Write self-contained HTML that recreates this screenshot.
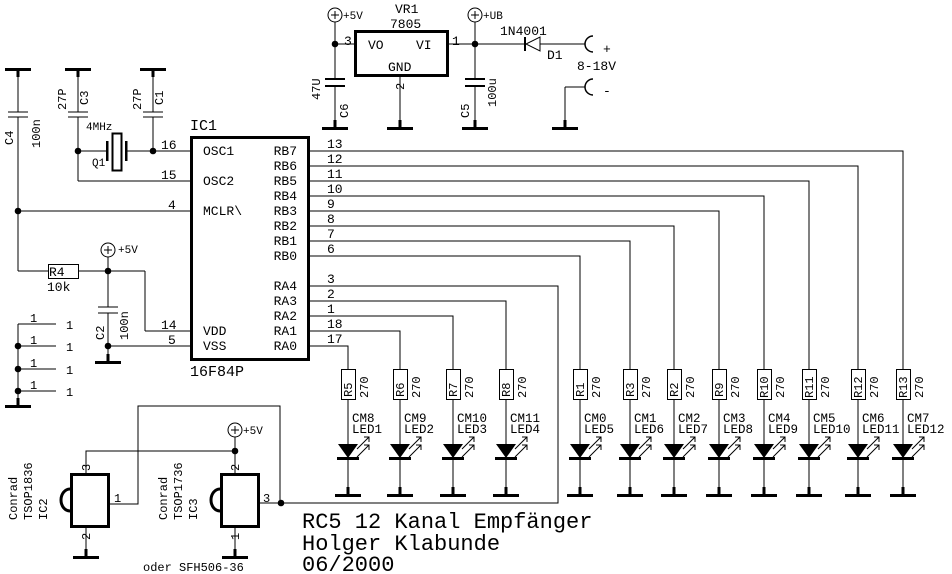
<!DOCTYPE html>
<html><head><meta charset="utf-8"><style>
html,body{margin:0;padding:0;background:#fff;}
svg{display:block;}
text{font-family:"Liberation Mono",monospace;fill:#000;}
</style></head><body>
<svg width="952" height="574" viewBox="0 0 952 574" xmlns="http://www.w3.org/2000/svg">
<defs>
<g id="gd"><line x1="0" y1="-7" x2="0" y2="0" stroke="#000" stroke-width="3"/><rect x="-13" y="0" width="26" height="3" fill="#000"/></g>
<g id="gu"><rect x="-13" y="-1" width="26" height="3" fill="#000"/><line x1="0" y1="2" x2="0" y2="8" stroke="#000" stroke-width="3"/></g>
<g id="led"><polygon points="-10,0 10,0 0,14" fill="#000"/><rect x="-11" y="13" width="22" height="3" fill="#000"/>
<g stroke="#000" stroke-width="1" fill="none"><line x1="9" y1="5" x2="21" y2="-7"/><polyline points="16,-7 21,-7 21,-2"/><line x1="9" y1="13" x2="21" y2="1"/><polyline points="16,1 21,1 21,6"/></g></g>
<g id="dot"><circle r="3.3" fill="#000"/></g>
<g id="pwr"><circle r="7" fill="#fff" stroke="#000" stroke-width="1"/><line x1="-4" y1="0" x2="4" y2="0" stroke="#000"/><line x1="0" y1="-4" x2="0" y2="4" stroke="#000"/></g>
</defs>
<g stroke="#000" stroke-width="1" fill="none" shape-rendering="crispEdges">
<rect x="191.5" y="137.5" width="117" height="222" stroke-width="3"/>
<polyline points="310,151 903,151 903,369"/>
<polyline points="310,166 858,166 858,369"/>
<polyline points="310,181 809,181 809,369"/>
<polyline points="310,196 764,196 764,369"/>
<polyline points="310,211 719,211 719,369"/>
<polyline points="310,226 674,226 674,369"/>
<polyline points="310,241 630,241 630,369"/>
<polyline points="310,256 580,256 580,369"/>
<polyline points="310,286 558,286 558,503 281,503"/>
<polyline points="310,301 506,301 506,369"/>
<polyline points="310,316 453,316 453,369"/>
<polyline points="310,331 400,331 400,369"/>
<polyline points="310,346 348,346 348,369"/>
<line x1="18" y1="76" x2="18" y2="112"/><line x1="18" y1="117" x2="18" y2="271"/>
<line x1="8" y1="112" x2="28" y2="112"/><line x1="8" y1="117" x2="28" y2="117"/>
<line x1="78" y1="76" x2="78" y2="112"/><line x1="78" y1="117" x2="78" y2="181"/><line x1="78" y1="181" x2="190" y2="181"/>
<line x1="68" y1="112" x2="88" y2="112"/><line x1="68" y1="117" x2="88" y2="117"/>
<line x1="153" y1="76" x2="153" y2="112"/><line x1="153" y1="117" x2="153" y2="151"/>
<line x1="143" y1="112" x2="163" y2="112"/><line x1="143" y1="117" x2="163" y2="117"/>
<line x1="78" y1="151" x2="107" y2="151"/><line x1="125" y1="151" x2="190" y2="151"/>
<line x1="18" y1="211" x2="190" y2="211"/>
<line x1="18" y1="271" x2="48" y2="271"/><line x1="78" y1="271" x2="145" y2="271"/>
<line x1="145" y1="271" x2="145" y2="331"/><line x1="145" y1="331" x2="190" y2="331"/>
<line x1="108" y1="257" x2="108" y2="307"/><line x1="108" y1="313" x2="108" y2="355"/>
<line x1="98" y1="307" x2="118" y2="307"/><line x1="98" y1="313" x2="118" y2="313"/>
<line x1="108" y1="346" x2="190" y2="346"/>
<line x1="18" y1="324" x2="18" y2="400"/>
<line x1="18" y1="324" x2="56" y2="324"/><line x1="18" y1="346" x2="56" y2="346"/><line x1="18" y1="369" x2="56" y2="369"/><line x1="18" y1="391" x2="56" y2="391"/>
<rect x="355.5" y="31.5" width="92" height="44" stroke-width="3"/>
<line x1="335" y1="22" x2="335" y2="79"/><line x1="335" y1="86" x2="335" y2="122"/>
<line x1="335" y1="44" x2="355" y2="44"/>
<line x1="400" y1="76" x2="400" y2="122"/>
<line x1="447" y1="44" x2="525" y2="44"/><line x1="540" y1="44" x2="585" y2="44"/>
<line x1="475" y1="22" x2="475" y2="79"/><line x1="475" y1="86" x2="475" y2="122"/>
<line x1="565" y1="87" x2="585" y2="87"/><line x1="565" y1="87" x2="565" y2="122"/>
<polyline points="86,473 86,451 235,451"/>
<line x1="235" y1="437" x2="235" y2="473"/>
<polyline points="108,504 138,504 138,406 280,406 280,503"/>
<line x1="258" y1="503" x2="281" y2="503"/>
<line x1="86" y1="527" x2="86" y2="550"/>
<line x1="235" y1="527" x2="235" y2="550"/>
<line x1="348" y1="399" x2="348" y2="490"/><line x1="400" y1="399" x2="400" y2="490"/><line x1="453" y1="399" x2="453" y2="490"/><line x1="506" y1="399" x2="506" y2="490"/>
<line x1="580" y1="399" x2="580" y2="490"/><line x1="630" y1="399" x2="630" y2="490"/><line x1="674" y1="399" x2="674" y2="490"/><line x1="719" y1="399" x2="719" y2="490"/>
<line x1="764" y1="399" x2="764" y2="490"/><line x1="809" y1="399" x2="809" y2="490"/><line x1="858" y1="399" x2="858" y2="490"/><line x1="903" y1="399" x2="903" y2="490"/>
</g>
<g fill="#fff" stroke="#000" stroke-width="1">
<rect x="48.5" y="264.5" width="30" height="14"/>
<rect x="341.5" y="369.5" width="14" height="30"/><rect x="393.5" y="369.5" width="14" height="30"/><rect x="446.5" y="369.5" width="14" height="30"/><rect x="499.5" y="369.5" width="14" height="30"/>
<rect x="573.5" y="369.5" width="14" height="30"/><rect x="623.5" y="369.5" width="14" height="30"/><rect x="667.5" y="369.5" width="14" height="30"/><rect x="712.5" y="369.5" width="14" height="30"/>
<rect x="757.5" y="369.5" width="14" height="30"/><rect x="802.5" y="369.5" width="14" height="30"/><rect x="851.5" y="369.5" width="14" height="30"/><rect x="896.5" y="369.5" width="14" height="30"/>
</g>
<rect x="112.5" y="133.5" width="9" height="37" fill="#fff" stroke="#000" stroke-width="2"/>
<rect x="106" y="141" width="2.5" height="20" fill="#000"/><rect x="125" y="141" width="2.5" height="20" fill="#000"/>
<g fill="#000"><rect x="325" y="78" width="20" height="2"/><rect x="325" y="85" width="20" height="2"/><rect x="465" y="78" width="20" height="2"/><rect x="465" y="85" width="20" height="2"/></g>
<polygon points="540,37 540,51 526,44" fill="#fff" stroke="#000"/><line x1="525" y1="37" x2="525" y2="51" stroke="#000" stroke-width="2"/>
<path d="M593,36 A8,8 0 0 0 593,52" fill="none" stroke="#000" stroke-width="1.5"/>
<path d="M593,79 A8,8 0 0 0 593,95" fill="none" stroke="#000" stroke-width="1.5"/>
<rect x="71.5" y="474.5" width="37" height="52" fill="#fff" stroke="#000" stroke-width="3"/>
<rect x="221.5" y="474.5" width="37" height="52" fill="#fff" stroke="#000" stroke-width="3"/>
<path d="M70,489 A9,11 0 0 0 70,511" fill="none" stroke="#000" stroke-width="3"/>
<path d="M220,489 A9,11 0 0 0 220,511" fill="none" stroke="#000" stroke-width="3"/>
<use href="#gu" x="18" y="69"/><use href="#gu" x="78" y="69"/><use href="#gu" x="153" y="69"/>
<use href="#gd" x="108" y="361"/><use href="#gd" x="18" y="405"/>
<use href="#gd" x="335" y="127"/><use href="#gd" x="400" y="127"/><use href="#gd" x="475" y="127"/><use href="#gd" x="565" y="127"/>
<use href="#gd" x="86" y="556"/><use href="#gd" x="235" y="556"/>
<use href="#gd" x="348" y="494"/><use href="#gd" x="400" y="494"/><use href="#gd" x="453" y="494"/><use href="#gd" x="506" y="494"/>
<use href="#gd" x="580" y="494"/><use href="#gd" x="630" y="494"/><use href="#gd" x="674" y="494"/><use href="#gd" x="719" y="494"/>
<use href="#gd" x="764" y="494"/><use href="#gd" x="809" y="494"/><use href="#gd" x="858" y="494"/><use href="#gd" x="903" y="494"/>
<use href="#led" x="348" y="444"/><use href="#led" x="400" y="444"/><use href="#led" x="453" y="444"/><use href="#led" x="506" y="444"/>
<use href="#led" x="580" y="444"/><use href="#led" x="630" y="444"/><use href="#led" x="674" y="444"/><use href="#led" x="719" y="444"/>
<use href="#led" x="764" y="444"/><use href="#led" x="809" y="444"/><use href="#led" x="858" y="444"/><use href="#led" x="903" y="444"/>
<use href="#dot" x="78" y="151"/><use href="#dot" x="153" y="151"/><use href="#dot" x="18" y="211"/><use href="#dot" x="108" y="271"/><use href="#dot" x="108" y="346"/>
<use href="#dot" x="18" y="346"/><use href="#dot" x="18" y="369"/><use href="#dot" x="18" y="391"/>
<use href="#dot" x="335" y="44"/><use href="#dot" x="475" y="44"/><use href="#dot" x="235" y="451"/><use href="#dot" x="281" y="503"/>
<use href="#pwr" x="108" y="250"/><use href="#pwr" x="335" y="15"/><use href="#pwr" x="475" y="15"/><use href="#pwr" x="235" y="430"/>
<g font-size="13">
<text x="190" y="130" font-size="15">IC1</text>
<text x="190" y="376" font-size="15">16F84P</text>
<text x="203" y="155">OSC1</text><text x="203" y="185">OSC2</text><text x="203" y="215">MCLR\</text>
<text x="203" y="335">VDD</text><text x="203" y="350">VSS</text>
<g text-anchor="end"><text x="297" y="155">RB7</text><text x="297" y="170">RB6</text><text x="297" y="185">RB5</text><text x="297" y="200">RB4</text><text x="297" y="215">RB3</text><text x="297" y="230">RB2</text><text x="297" y="245">RB1</text><text x="297" y="260">RB0</text>
<text x="297" y="290">RA4</text><text x="297" y="305">RA3</text><text x="297" y="320">RA2</text><text x="297" y="335">RA1</text><text x="297" y="350">RA0</text></g>
<text x="327" y="148">13</text><text x="327" y="163">12</text><text x="327" y="178">11</text><text x="327" y="193">10</text><text x="327" y="208">9</text><text x="327" y="223">8</text><text x="327" y="238">7</text><text x="327" y="253">6</text>
<text x="327" y="283">3</text><text x="327" y="298">2</text><text x="327" y="313">1</text><text x="327" y="328">18</text><text x="327" y="343">17</text>
<text x="161" y="149">16</text><text x="161" y="179">15</text><text x="168" y="209">4</text><text x="161" y="329">14</text><text x="168" y="344">5</text>
<text x="86" y="130" font-size="11">4MHz</text><text x="92" y="166" font-size="11">Q1</text>
<text x="49" y="276">R4</text><text x="47" y="291">10k</text>
<text x="118" y="253" font-size="11">+5V</text><text x="343" y="19" font-size="11">+5V</text><text x="483" y="19" font-size="11">+UB</text><text x="243" y="434" font-size="11">+5V</text>
<text x="395" y="13">VR1</text><text x="390" y="28">7805</text>
<text x="368" y="49">VO</text><text x="416" y="49">VI</text><text x="388" y="71">GND</text>
<text x="344" y="45">3</text><text x="452" y="45">1</text>
<text x="500" y="35">1N4001</text><text x="547" y="59">D1</text>
<text x="603" y="53">+</text><text x="577" y="70">8-18V</text><text x="603" y="95">-</text>
<text x="30" y="322" font-size="12">1</text><text x="30" y="344" font-size="12">1</text><text x="30" y="367" font-size="12">1</text><text x="30" y="389" font-size="12">1</text>
<text x="66" y="329" font-size="12">1</text><text x="66" y="351" font-size="12">1</text><text x="66" y="374" font-size="12">1</text><text x="66" y="396" font-size="12">1</text>
<text x="114" y="502" font-size="12">1</text><text x="263" y="502" font-size="12">3</text>
<text x="143" y="571" font-size="12">oder SFH506-36</text>
</g>
<g font-size="12">
<text transform="translate(13,145) rotate(-90)">C4</text><text transform="translate(40,148) rotate(-90)">100n</text>
<text transform="translate(66,110) rotate(-90)">27P</text><text transform="translate(88,105) rotate(-90)">C3</text>
<text transform="translate(141,110) rotate(-90)">27P</text><text transform="translate(163,105) rotate(-90)">C1</text>
<text transform="translate(104,340) rotate(-90)">C2</text><text transform="translate(128,340) rotate(-90)">100n</text>
<text transform="translate(320,100) rotate(-90)">47U</text><text transform="translate(348,118) rotate(-90)">C6</text>
<text transform="translate(469,118) rotate(-90)">C5</text><text transform="translate(496,107) rotate(-90)">100u</text>
<text transform="translate(404,90) rotate(-90)">2</text>
<text transform="translate(90,471) rotate(-90)">3</text><text transform="translate(90,540) rotate(-90)">2</text>
<text transform="translate(239,471) rotate(-90)">2</text><text transform="translate(239,540) rotate(-90)">1</text>
<text transform="translate(17,520) rotate(-90)">Conrad</text><text transform="translate(32,520) rotate(-90)">TSOP1836</text><text transform="translate(47,520) rotate(-90)">IC2</text>
<text transform="translate(167,520) rotate(-90)">Conrad</text><text transform="translate(182,520) rotate(-90)">TSOP1736</text><text transform="translate(197,520) rotate(-90)">IC3</text>
</g>
<g font-size="12">
<text transform="translate(352,397) rotate(-90)">R5</text><text transform="translate(368,398) rotate(-90)">270</text>
<text transform="translate(404,397) rotate(-90)">R6</text><text transform="translate(420,398) rotate(-90)">270</text>
<text transform="translate(457,397) rotate(-90)">R7</text><text transform="translate(473,398) rotate(-90)">270</text>
<text transform="translate(510,397) rotate(-90)">R8</text><text transform="translate(526,398) rotate(-90)">270</text>
<text transform="translate(584,397) rotate(-90)">R1</text><text transform="translate(600,398) rotate(-90)">270</text>
<text transform="translate(634,397) rotate(-90)">R3</text><text transform="translate(650,398) rotate(-90)">270</text>
<text transform="translate(678,397) rotate(-90)">R2</text><text transform="translate(694,398) rotate(-90)">270</text>
<text transform="translate(723,397) rotate(-90)">R9</text><text transform="translate(739,398) rotate(-90)">270</text>
<text transform="translate(768,398) rotate(-90)">R10</text><text transform="translate(784,398) rotate(-90)">270</text>
<text transform="translate(813,398) rotate(-90)">R11</text><text transform="translate(829,398) rotate(-90)">270</text>
<text transform="translate(862,398) rotate(-90)">R12</text><text transform="translate(878,398) rotate(-90)">270</text>
<text transform="translate(907,398) rotate(-90)">R13</text><text transform="translate(923,398) rotate(-90)">270</text>
</g>
<g font-size="12.5">
<text x="352" y="422">CM8</text><text x="352" y="433">LED1</text>
<text x="404" y="422">CM9</text><text x="404" y="433">LED2</text>
<text x="457" y="422">CM10</text><text x="457" y="433">LED3</text>
<text x="510" y="422">CM11</text><text x="510" y="433">LED4</text>
<text x="584" y="422">CM0</text><text x="584" y="433">LED5</text>
<text x="634" y="422">CM1</text><text x="634" y="433">LED6</text>
<text x="678" y="422">CM2</text><text x="678" y="433">LED7</text>
<text x="723" y="422">CM3</text><text x="723" y="433">LED8</text>
<text x="768" y="422">CM4</text><text x="768" y="433">LED9</text>
<text x="813" y="422">CM5</text><text x="813" y="433">LED10</text>
<text x="862" y="422">CM6</text><text x="862" y="433">LED11</text>
<text x="907" y="422">CM7</text><text x="907" y="433">LED12</text>
</g>
<g font-size="22" style="fill:#666">
<text x="302" y="528">RC5 12 Kanal Empfänger</text>
<text x="302" y="550">Holger Klabunde</text>
<text x="302" y="571">06/2000</text>
</g>
</svg>
</body></html>
